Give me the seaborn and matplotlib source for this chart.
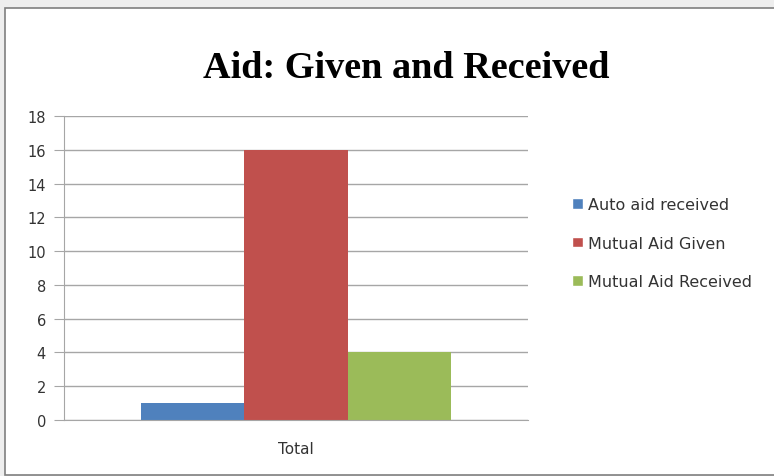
import pandas as pd
import matplotlib.pyplot as plt
import seaborn as sns
from matplotlib.patches import Rectangle

# values
series = ['Auto aid received', 'Mutual Aid Given', 'Mutual Aid Received']
values = [1, 16, 4]
category = ['Total', 'Total', 'Total']
colors = ['#4F81BD', '#C0504D', '#9BBB59']
yticks = [0, 2, 4, 6, 8, 10, 12, 14, 16, 18]

df = pd.DataFrame({'cat': category, 'series': series, 'value': values})

sns.set_style('white')
plt.rcParams['font.family'] = ['DejaVu Sans']

fig = plt.figure(figsize=(7.74, 4.77), dpi=100)
fig.patch.set_facecolor('#eeeeee')
# chart area frame like the Excel chart box
fig.patches.append(Rectangle((5 / 774, 1 / 477), 1.0, 467 / 477, transform=fig.transFigure,
                             facecolor='white', edgecolor='#7f7f7f', linewidth=1.2, zorder=-5))

ax = fig.add_axes([64 / 774, 1 - 421 / 477, (528 - 64) / 774, (421 - 117) / 477])
ax.set_facecolor('none')
sns.barplot(data=df, x='cat', y='value', hue='series', palette=colors, saturation=1,
            width=0.667, gap=0, ax=ax, legend=False, linewidth=0)

ax.set_ylim(0, 18)
ax.set_yticks(yticks)
ax.yaxis.grid(True, color='#a6a6a6', linewidth=1)
ax.set_axisbelow(True)
ax.set_xlabel('')
ax.set_ylabel('')
for s in ['top', 'right']:
    ax.spines[s].set_visible(False)
ax.spines['left'].set_color('#a6a6a6')
ax.spines['bottom'].set_color('#a6a6a6')
ax.tick_params(axis='y', length=7, color='#a6a6a6', labelsize=10.5, labelcolor='#333333', pad=6, left=True)
ax.tick_params(axis='x', length=0, labelsize=11, labelcolor='#333333', pad=15)

fig.text(406 / 774, 1 - 68 / 477, 'Aid: Given and Received', ha='center', va='center',
         fontsize=27.5, fontweight='bold', family=['Liberation Serif'], color='black')

# legend on the right
handles = [Rectangle((0, 0), 1, 1, facecolor=c) for c in colors]
fig.legend(handles, series, loc='center left', bbox_to_anchor=(558 / 774, 1 - 244 / 477),
           frameon=False, fontsize=11.5, handlelength=0.65, handleheight=0.65, handletextpad=0.3,
           labelspacing=1.48, labelcolor='#333333')

fig.savefig('out.png', dpi=100)
